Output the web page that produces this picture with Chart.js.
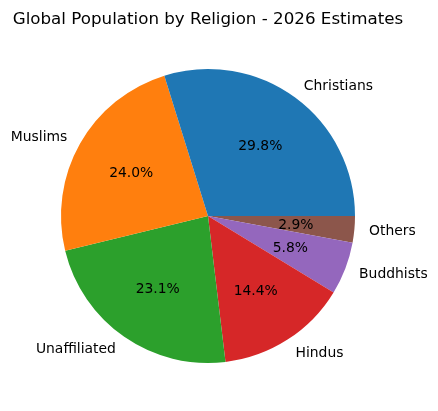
<!DOCTYPE html>
<html>
<head>
<meta charset="utf-8">
<script src="https://cdn.jsdelivr.net/npm/chart.js@4/dist/chart.umd.min.js"></script>
<style>
  html, body { margin: 0; padding: 0; background: #fff; }
  canvas { display: block; }
</style>
</head>
<body>
<canvas id="pieChart" width="438" height="411"></canvas>
<script>
"use strict";

// data, in matplotlib order (counterclockwise from east)
const religions = ["Christians", "Muslims", "Unaffiliated", "Hindus", "Buddhists", "Others"];
const shares = [29.8, 24.0, 23.1, 14.4, 5.8, 2.9];
const sliceColors = ["#1f77b4", "#ff7f0e", "#2ca02c", "#d62728", "#9467bd", "#8c564b"];
const chartTitle = "Global Population by Religion - 2026 Estimates";

// Chart.js draws clockwise, so reverse and start at east
const labels = religions.slice().reverse();
const values = shares.slice().reverse();
const colors = sliceColors.slice().reverse();

const font = "DejaVu Sans, sans-serif";

const pieText = {
  id: "pieText",
  afterDatasetsDraw(chart) {
    const ctx = chart.ctx;
    const meta = chart.getDatasetMeta(0);
    const total = values.reduce((a, b) => a + b, 0);
    ctx.save();
    ctx.fillStyle = "#000";
    meta.data.forEach((arc, i) => {
      const mid = (arc.startAngle + arc.endAngle) / 2;
      const r = arc.outerRadius;
      const cx = Math.cos(mid), cy = Math.sin(mid);
      // percent labels
      ctx.font = "13.9px " + font;
      ctx.textAlign = "center";
      ctx.textBaseline = "middle";
      const pct = (values[i] / total * 100).toFixed(1) + "%";
      ctx.fillText(pct, arc.x + cx * r * 0.6, arc.y + cy * r * 0.6 + 1);
      // category labels
      ctx.textAlign = cx > 0 ? "left" : "right";
      ctx.fillText(labels[i], arc.x + cx * r * 1.1, arc.y + cy * r * 1.1 + 1);
    });
    ctx.font = "16.7px " + font;
    ctx.textAlign = "center";
    ctx.textBaseline = "alphabetic";
    ctx.fillText(chartTitle, 208, 24);
    ctx.restore();
  }
};

new Chart(document.getElementById("pieChart"), {
  type: "pie",
  data: {
    labels: labels,
    datasets: [
      {
        data: values,
        backgroundColor: colors,
        borderWidth: 0,
      },
    ],
  },
  options: {
    responsive: false,
    animation: false,
    devicePixelRatio: 1,
    rotation: 90,
    layout: {
      padding: { left: 61, right: 83, top: 69, bottom: 48 },
    },
    plugins: {
      legend: { display: false },
      tooltip: { enabled: false },
    },
  },
  plugins: [pieText],
});
</script>
</body>
</html>
